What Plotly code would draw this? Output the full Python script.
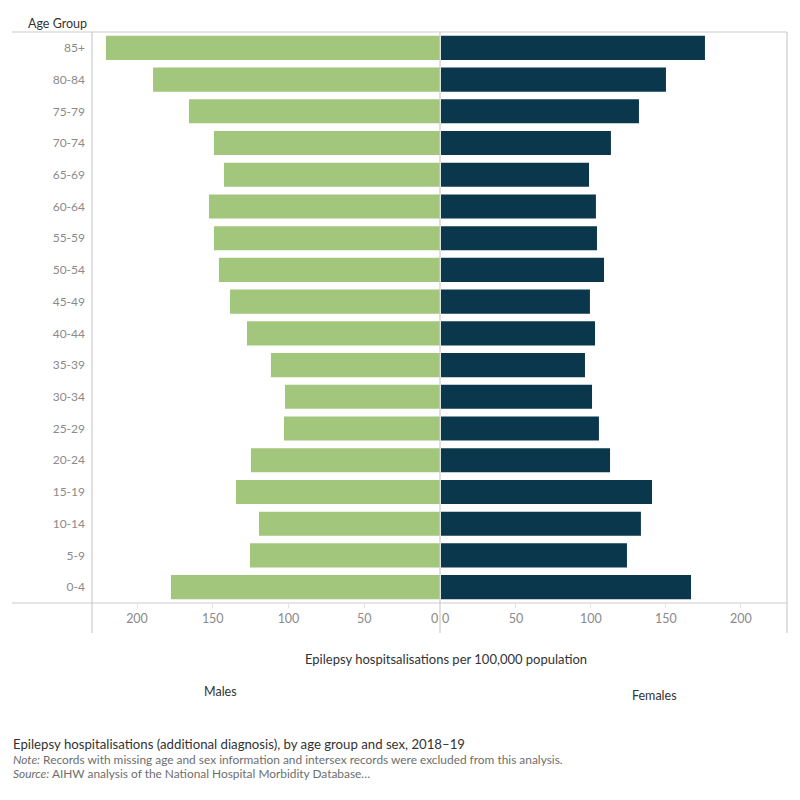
import plotly.graph_objects as go
from plotly.subplots import make_subplots

age_groups = ["0-4", "5-9", "10-14", "15-19", "20-24", "25-29", "30-34", "35-39",
              "40-44", "45-49", "50-54", "55-59", "60-64", "65-69", "70-74",
              "75-79", "80-84", "85+"]
males = [177.6, 125.4, 119.5, 134.7, 124.8, 103.0, 102.3, 111.6,
         127.4, 138.6, 145.9, 149.2, 152.5, 142.6, 149.2, 165.7, 189.4, 220.5]
females = [166.7, 124.0, 133.3, 140.7, 112.7, 105.3, 100.7, 96.0,
           102.7, 99.3, 108.7, 104.0, 103.3, 98.7, 113.3, 132.0, 150.0, 176.0]
x_ticks = [50, 100, 150, 200]

GREEN = "#A2C67C"
NAVY = "#0B374D"
LINE = "#CCCCCC"
TICKC = "#8A8A8A"
DARK = "#333333"
FONT = "Lato, Open Sans, sans-serif"

W = 800.0
def px(x):
    return x / W
def py(y):
    return 1 - y / W

fig = make_subplots(rows=1, cols=2, shared_yaxes=True, horizontal_spacing=0)

fig.add_trace(go.Bar(y=age_groups, x=males, orientation="h", marker_color=GREEN,
                     marker_line_width=0, name="Males", showlegend=False), row=1, col=1)
fig.add_trace(go.Bar(y=age_groups, x=females, orientation="h", marker_color=NAVY,
                     marker_line_width=0, name="Females", showlegend=False), row=1, col=2)

fig.update_layout(
    width=800, height=800,
    margin=dict(l=0, r=0, t=0, b=0),
    paper_bgcolor="white", plot_bgcolor="white",
    bargap=0.24,
    font=dict(family=FONT, color=DARK),
)

fig.update_xaxes(domain=[px(92), px(440)], range=[229.7, 0], tickvals=x_ticks,
                 ticks="outside", ticklen=4, tickcolor="#E2E2E2",
                 showgrid=False, zeroline=False, showline=False,
                 tickfont=dict(size=12.5, color=TICKC, family=FONT), row=1, col=1)
fig.update_xaxes(domain=[px(441), px(787)], range=[0, 230.7], tickvals=x_ticks,
                 ticks="outside", ticklen=4, tickcolor="#E2E2E2",
                 showgrid=False, zeroline=False, showline=False,
                 tickfont=dict(size=12.5, color=TICKC, family=FONT), row=1, col=2)
fig.update_yaxes(domain=[py(603), py(32)], categoryorder="array", categoryarray=age_groups,
                 showgrid=False, zeroline=False, showline=False, ticks="",
                 tickfont=dict(size=12, color=TICKC, family=FONT))
fig.update_yaxes(ticklabelstandoff=6, row=1, col=1)

shapes = [
    (12, 32, 787, 32),
    (12, 603, 787, 603),
    (92, 32, 92, 633),
    (440, 32, 440, 633),
    (787, 32, 787, 633),
]
for x0, y0, x1, y1 in shapes:
    fig.add_shape(type="line", xref="paper", yref="paper",
                  x0=px(x0), y0=py(y0), x1=px(x1), y1=py(y1),
                  line=dict(color=LINE, width=1.2))

def ann(text, x, y, size, color=DARK, xanchor="left"):
    fig.add_annotation(text=text, xref="paper", yref="paper", x=px(x), y=py(y),
                       xanchor=xanchor, yanchor="middle", showarrow=False,
                       font=dict(size=size, color=color, family=FONT))

# zero tick labels, clipped inside each pane as in the reference
fig.add_annotation(text="0", xref="x", yref="paper", x=0, y=py(618), xanchor="right",
                   yanchor="middle", showarrow=False, xshift=0,
                   font=dict(size=12.5, color=TICKC, family=FONT))
fig.add_annotation(text="0", xref="x2", yref="paper", x=0, y=py(618), xanchor="left",
                   yanchor="middle", showarrow=False, xshift=-1,
                   font=dict(size=12.5, color=TICKC, family=FONT))

ann("Age Group", 26, 23, 12.5)
ann("Epilepsy hospitsalisations per 100,000 population", 446, 659, 13, xanchor="center")
ann("Males", 220, 691, 12.5, xanchor="center")
ann("Females", 654, 695, 12.5, xanchor="center")
ann("Epilepsy hospitalisations (additional diagnosis), by age group and sex, 2018\u201319", 11, 744, 13.2)
ann("<i>Note:</i> Records with missing age and sex information and intersex records were excluded from this analysis.", 11, 759, 11.9, color="#6E6E6E")
ann("<i>Source:</i> AIHW analysis of the National Hospital Morbidity Database\u2026", 11, 773, 11.9, color="#6E6E6E")

fig.write_html("out.html")
